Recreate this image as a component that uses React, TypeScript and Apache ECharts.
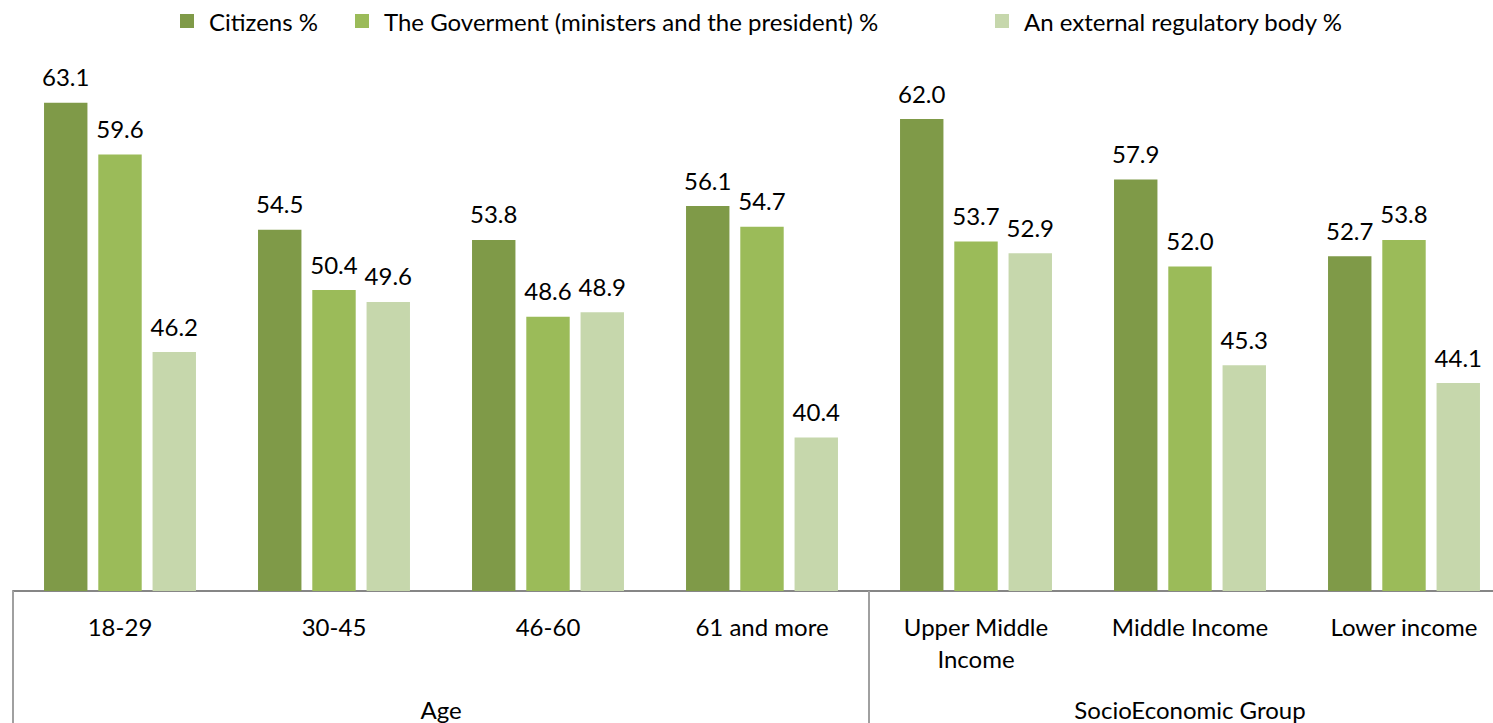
import React, { useEffect, useRef } from "react";
import * as echarts from "echarts";

const categories = ["18-29", "30-45", "46-60", "61 and more", "Upper Middle\nIncome", "Middle Income", "Lower income"];
const seriesNames = ["Citizens %", "The Goverment (ministers and the president) %", "An external regulatory body %"];
const citizens = [63.1, 54.5, 53.8, 56.1, 62.0, 57.9, 52.7];
const government = [59.6, 50.4, 48.6, 54.7, 53.7, 52.0, 53.8];
const external = [46.2, 49.6, 48.9, 40.4, 52.9, 45.3, 44.1];
const groups = [
  { name: "Age", center: 2 },
  { name: "SocioEconomic Group", center: 5.5 },
];
const colors = ["#7f9a48", "#9bbb59", "#c6d7ac"];
const legendLefts = [175, 350, 990];
const FONT = 'Lato, "Open Sans", sans-serif';

export default function App() {
  const ref = useRef<HTMLDivElement>(null);
  useEffect(() => {
    if (!ref.current) return;
    const chart = echarts.init(ref.current, undefined, { renderer: "svg" });
    const values = [citizens, government, external];
    chart.setOption({
      animation: false,
      textStyle: { fontFamily: FONT },
      legend: seriesNames.map((name, k) => ({
        top: 4,
        left: legendLefts[k],
        itemWidth: 14,
        itemHeight: 14,
        icon: "rect",
        textStyle: { fontSize: 24, color: "#000", fontFamily: FONT, padding: [0, 0, 0, 10] },
        data: [name],
      })),
      grid: { left: 13, width: 1498, top: 1, bottom: 132, containLabel: false, outerBoundsMode: "none" },
      xAxis: [
        {
          type: "category",
          data: categories,
          axisLine: { show: true, lineStyle: { color: "#868686", width: 2 } },
          axisTick: {
            show: true,
            interval: (i: number) => i === 0 || i === 4,
            length: 132,
            lineStyle: { color: "#a0a0a0", width: 2 },
          },
          axisLabel: { fontSize: 24, color: "#000", margin: 19, lineHeight: 32, interval: 0, fontFamily: FONT },
        },
        {
          type: "value",
          position: "bottom",
          min: 0,
          max: 7,
          interval: 0.5,
          axisLine: { show: false },
          axisTick: { show: false },
          splitLine: { show: false },
          axisLabel: {
            fontSize: 24,
            color: "#000",
            margin: 106,
            fontFamily: FONT,
            formatter: (v: number) => {
              const g = groups.find((x) => Math.abs(x.center - v) < 1e-6);
              return g ? g.name : "";
            },
          },
        },
      ],
      yAxis: { type: "value", min: 30, max: 70, show: false, splitLine: { show: false } },
      series: seriesNames.map((name, k) => ({
        name,
        type: "bar",
        xAxisIndex: 0,
        data: values[k],
        barGap: "25%",
        barCategoryGap: "29%",
        itemStyle: { color: colors[k] },
        label: {
          show: true,
          position: "top",
          distance: 14,
          fontSize: 24,
          color: "#000",
          fontFamily: FONT,
          formatter: (p: any) => Number(p.value).toFixed(1),
        },
      })),
    });
    return () => chart.dispose();
  }, []);
  return (
    <div
      ref={ref}
      style={{ position: "absolute", left: 0, top: 0, width: 1493, height: 723, background: "#fff" }}
    />
  );
}
